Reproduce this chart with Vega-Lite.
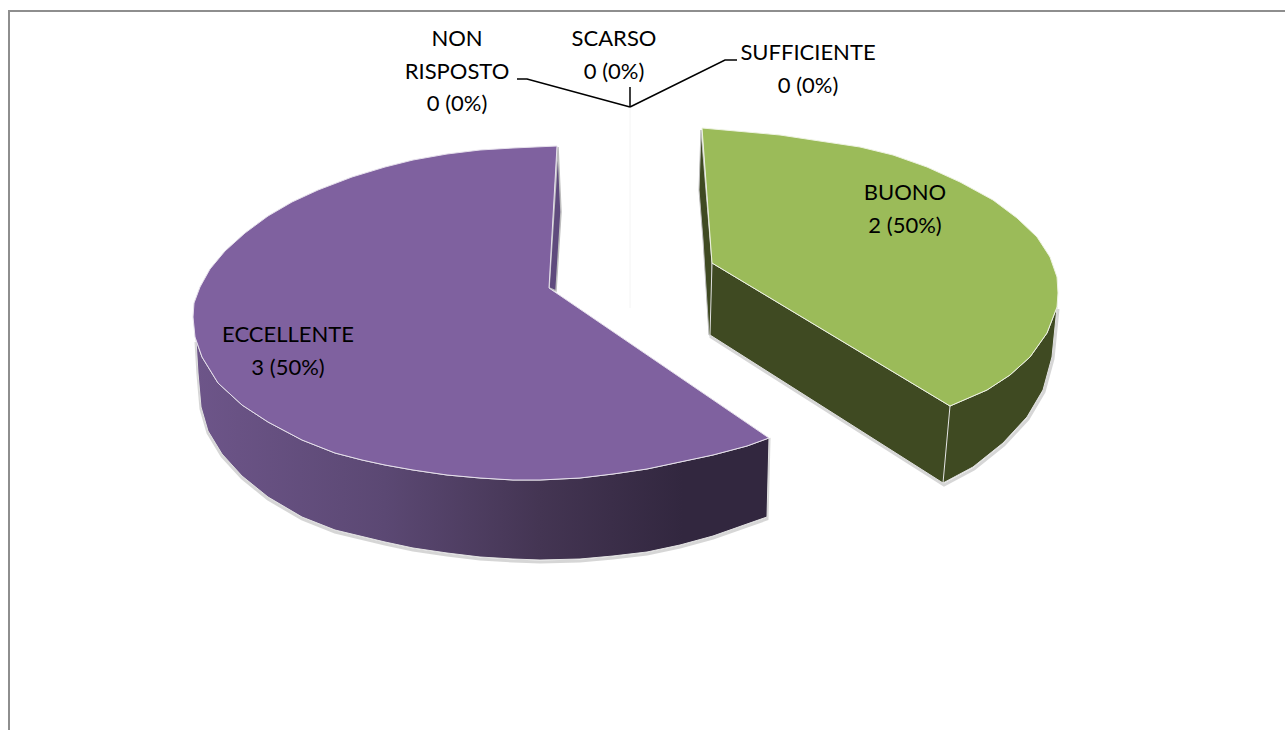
{
"$schema":"https://vega.github.io/schema/vega-lite/v6.json",
"width":1285,"height":730,"padding":0,"autosize":{"type":"none"},
"background":"white",
"config":{"view":{"stroke":null},"line":{"order":false}},
"datasets":{
"frame":[{"x":9,"y":730},{"x":9,"y":11},{"x":1285,"y":11}],
"axisline":[{"x":630,"y":108},{"x":630,"y":308}],
"leadL":[{"x":517,"y":79},{"x":527,"y":79},{"x":630,"y":107}],
"leadC":[{"x":630,"y":87},{"x":630,"y":107}],
"leadR":[{"x":737,"y":60},{"x":725,"y":60},{"x":630,"y":107}],
"purpleSide":[{"x":196,"y":340},{"x":202,"y":357},{"x":218,"y":383},{"x":242,"y":405},{"x":268,"y":422},{"x":302,"y":440},{"x":335,"y":453},{"x":362,"y":460},{"x":385,"y":465},{"x":413,"y":470},{"x":447,"y":475},{"x":480,"y":478},{"x":513,"y":480},{"x":540,"y":480},{"x":580,"y":478},{"x":613,"y":474},{"x":647,"y":469},{"x":680,"y":462},{"x":713,"y":455},{"x":747,"y":446},{"x":769,"y":438},{"x":767,"y":517},{"x":747,"y":524},{"x":713,"y":536},{"x":680,"y":545},{"x":647,"y":552},{"x":613,"y":556},{"x":580,"y":559},{"x":540,"y":560},{"x":513,"y":559},{"x":480,"y":557},{"x":447,"y":553},{"x":413,"y":548},{"x":385,"y":542},{"x":335,"y":530},{"x":302,"y":517},{"x":268,"y":497},{"x":242,"y":476},{"x":222,"y":454},{"x":208,"y":431},{"x":201,"y":407},{"x":198,"y":373},{"x":196,"y":340}],
"purpleSliver":[{"x":558,"y":147},{"x":561,"y":212},{"x":556,"y":291},{"x":549,"y":288},{"x":558,"y":147}],
"purpleTop":[{"x":557,"y":146},{"x":513,"y":148},{"x":480,"y":150},{"x":447,"y":154},{"x":413,"y":160},{"x":385,"y":167},{"x":352,"y":177},{"x":318,"y":190},{"x":292,"y":202},{"x":268,"y":216},{"x":245,"y":233},{"x":225,"y":251},{"x":210,"y":269},{"x":200,"y":287},{"x":194,"y":303},{"x":193,"y":317},{"x":195,"y":337},{"x":202,"y":357},{"x":218,"y":383},{"x":242,"y":405},{"x":268,"y":422},{"x":302,"y":440},{"x":335,"y":453},{"x":362,"y":460},{"x":385,"y":465},{"x":413,"y":470},{"x":447,"y":475},{"x":480,"y":478},{"x":513,"y":480},{"x":540,"y":480},{"x":580,"y":478},{"x":613,"y":474},{"x":647,"y":469},{"x":680,"y":462},{"x":713,"y":455},{"x":747,"y":446},{"x":769,"y":438},{"x":549,"y":288},{"x":557,"y":146}],
"greenSide":[{"x":712,"y":263},{"x":950,"y":406},{"x":987,"y":390},{"x":1010,"y":375},{"x":1030,"y":357},{"x":1047,"y":333},{"x":1057,"y":307},{"x":1056,"y":317},{"x":1052,"y":357},{"x":1043,"y":390},{"x":1027,"y":417},{"x":1003,"y":443},{"x":973,"y":467},{"x":943,"y":483},{"x":710,"y":335},{"x":712,"y":263}],
"greenSliver":[{"x":701,"y":130},{"x":699,"y":190},{"x":703,"y":240},{"x":709,"y":335},{"x":712,"y":335},{"x":712,"y":263},{"x":701,"y":130}],
"greenTop":[{"x":702,"y":128},{"x":747,"y":132},{"x":780,"y":135},{"x":813,"y":140},{"x":860,"y":147},{"x":893,"y":155},{"x":927,"y":167},{"x":960,"y":182},{"x":993,"y":200},{"x":1017,"y":218},{"x":1037,"y":237},{"x":1050,"y":257},{"x":1057,"y":277},{"x":1058,"y":293},{"x":1057,"y":307},{"x":1047,"y":333},{"x":1030,"y":357},{"x":1010,"y":375},{"x":987,"y":390},{"x":950,"y":406},{"x":712,"y":263},{"x":702,"y":128}],
"greenEdge":[{"x":950,"y":406},{"x":943,"y":483}],
"labels":[
{"category":"NON RISPOSTO","lines":["NON","RISPOSTO","0 (0%)"],"x":457,"y":39},
{"category":"SCARSO","lines":["SCARSO","0 (0%)"],"x":614,"y":39},
{"category":"SUFFICIENTE","lines":["SUFFICIENTE","0 (0%)"],"x":808,"y":53},
{"category":"BUONO","lines":["BUONO","2 (50%)"],"x":905,"y":193},
{"category":"ECCELLENTE","lines":["ECCELLENTE","3 (50%)"],"x":288,"y":335}
]
},
"encoding":{
"x":{"field":"x","type":"quantitative","scale":{"domain":[0,1285],"nice":false,"zero":false},"axis":null},
"y":{"field":"y","type":"quantitative","scale":{"domain":[730,0],"nice":false,"zero":false},"axis":null}
},
"layer":[
{"data":{"name":"frame"},"mark":{"type":"line","stroke":"#8e8e8e","strokeWidth":2}},
{"data":{"name":"axisline"},"mark":{"type":"line","stroke":"#f4f4f4","strokeWidth":1}},
{"data":{"name":"leadL"},"mark":{"type":"line","stroke":"#000000","strokeWidth":1.5}},
{"data":{"name":"leadC"},"mark":{"type":"line","stroke":"#000000","strokeWidth":1.5}},
{"data":{"name":"leadR"},"mark":{"type":"line","stroke":"#000000","strokeWidth":1.5}},
{"data":{"name":"purpleSide"},"mark":{"type":"line","stroke":"#b5b5b5","strokeWidth":3,"yOffset":2,"opacity":0.55}},
{"data":{"name":"purpleSide"},"mark":{"type":"line","stroke":"#e2e2e2","strokeWidth":1,"fill":{"gradient":"linear","x1":0,"y1":0,"x2":1,"y2":0,"stops":[{"offset":0,"color":"#6d5589"},{"offset":0.33,"color":"#5b4873"},{"offset":0.6,"color":"#443553"},{"offset":0.85,"color":"#32273f"},{"offset":1,"color":"#32273f"}]}}},
{"data":{"name":"purpleSliver"},"mark":{"type":"line","stroke":"#bdbdbd","strokeWidth":1.5,"fill":"#5f4a7d"}},
{"data":{"name":"purpleTop"},"mark":{"type":"line","stroke":"#e6e0ec","strokeWidth":1,"fill":"#7f619f"}},
{"data":{"name":"greenSide"},"mark":{"type":"line","stroke":"#b5b5b5","strokeWidth":3,"yOffset":2,"xOffset":1,"opacity":0.55}},
{"data":{"name":"greenSliver"},"mark":{"type":"line","stroke":"#bdbdbd","strokeWidth":1,"fill":"#3f4a22"}},
{"data":{"name":"greenSide"},"mark":{"type":"line","stroke":"#e0e0e0","strokeWidth":1,"fill":"#3f4a22"}},
{"data":{"name":"greenEdge"},"mark":{"type":"line","stroke":"#e6e6e6","strokeWidth":1}},
{"data":{"name":"greenTop"},"mark":{"type":"line","stroke":"#eef3e2","strokeWidth":1,"fill":"#9bbb59"}},
{"data":{"name":"labels"},"mark":{"type":"text","font":"Lato","fontSize":22,"color":"#000000","lineHeight":32.5,"align":"center","baseline":"middle"},"encoding":{"text":{"field":"lines"}}}
]
}
